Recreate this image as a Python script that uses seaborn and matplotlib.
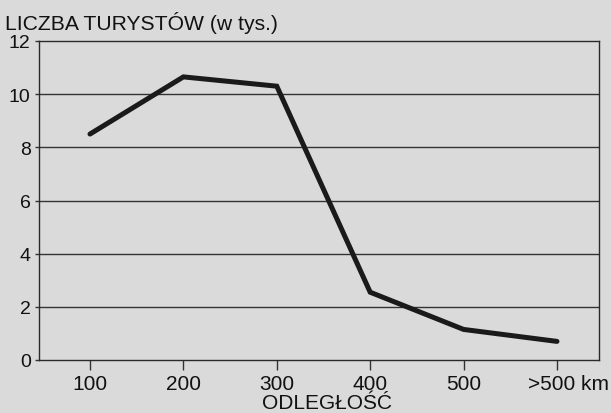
import matplotlib
matplotlib.use("Agg")
import matplotlib.pyplot as plt
import matplotlib.transforms as mtransforms
import seaborn as sns
import pandas as pd

categories = ["100", "200", "300", "400", "500", ">500 km"]
tourists = [8.5, 10.65, 10.3, 2.55, 1.15, 0.7]
y_ticks = [0, 2, 4, 6, 8, 10, 12]

sns.set_theme(style="white")
plt.rcParams['font.family'] = ['Liberation Sans', 'DejaVu Sans']

bg = "#dadada"
fig = plt.figure(figsize=(6.11, 4.14), dpi=100, facecolor=bg)
ax = fig.add_axes([39 / 611, 1 - 361 / 414, 560 / 611, 319 / 414])
ax.set_facecolor(bg)

df = pd.DataFrame({"odl": categories, "val": tourists})
df["pos"] = range(len(categories))
sns.lineplot(data=df, x="pos", y="val", ax=ax, color="#1a1a1a", linewidth=3.6,
             sort=False, solid_joinstyle="miter")

ax.set_xlim(-0.546, 5.45)
ax.set_ylim(0, 12)
ax.set_yticks(y_ticks)
ax.set_yticklabels([str(v) for v in y_ticks], fontsize=14, color="#111111")
ax.set_xticks(range(len(categories)))
ax.set_xticklabels(categories, fontsize=15, color="#111111")
ax.tick_params(axis="x", direction="out", length=7, width=1, color="#333333", pad=3, bottom=True)
ax.tick_params(axis="y", direction="out", length=3, width=1, color="#333333", pad=3, left=True)
# shift last label so that ">500" sits centred on its tick
last = ax.get_xticklabels()[-1]
last.set_transform(last.get_transform() + mtransforms.ScaledTranslation(12 / 100, 0, fig.dpi_scale_trans))
for v in y_ticks[1:-1]:
    ax.axhline(v, color="#333333", linewidth=1.0, zorder=1)
for s in ax.spines.values():
    s.set_visible(True)
    s.set_color("#2a2a2a")
    s.set_linewidth(1.0)
ax.set_xlabel("ODLEGŁOŚĆ", fontsize=15, color="#111111", labelpad=0)
ax.xaxis.set_label_coords((327 - 39) / 560, -(404 - 361) / 319)
ax.xaxis.label.set_va("center")
ax.set_ylabel("")
fig.text(5 / 611, 1 - 30 / 414, "LICZBA TURYSTÓW (w tys.)", fontsize=15.2, color="#111111",
         ha="left", va="baseline")

fig.savefig("out.png", dpi=100, facecolor=bg)
